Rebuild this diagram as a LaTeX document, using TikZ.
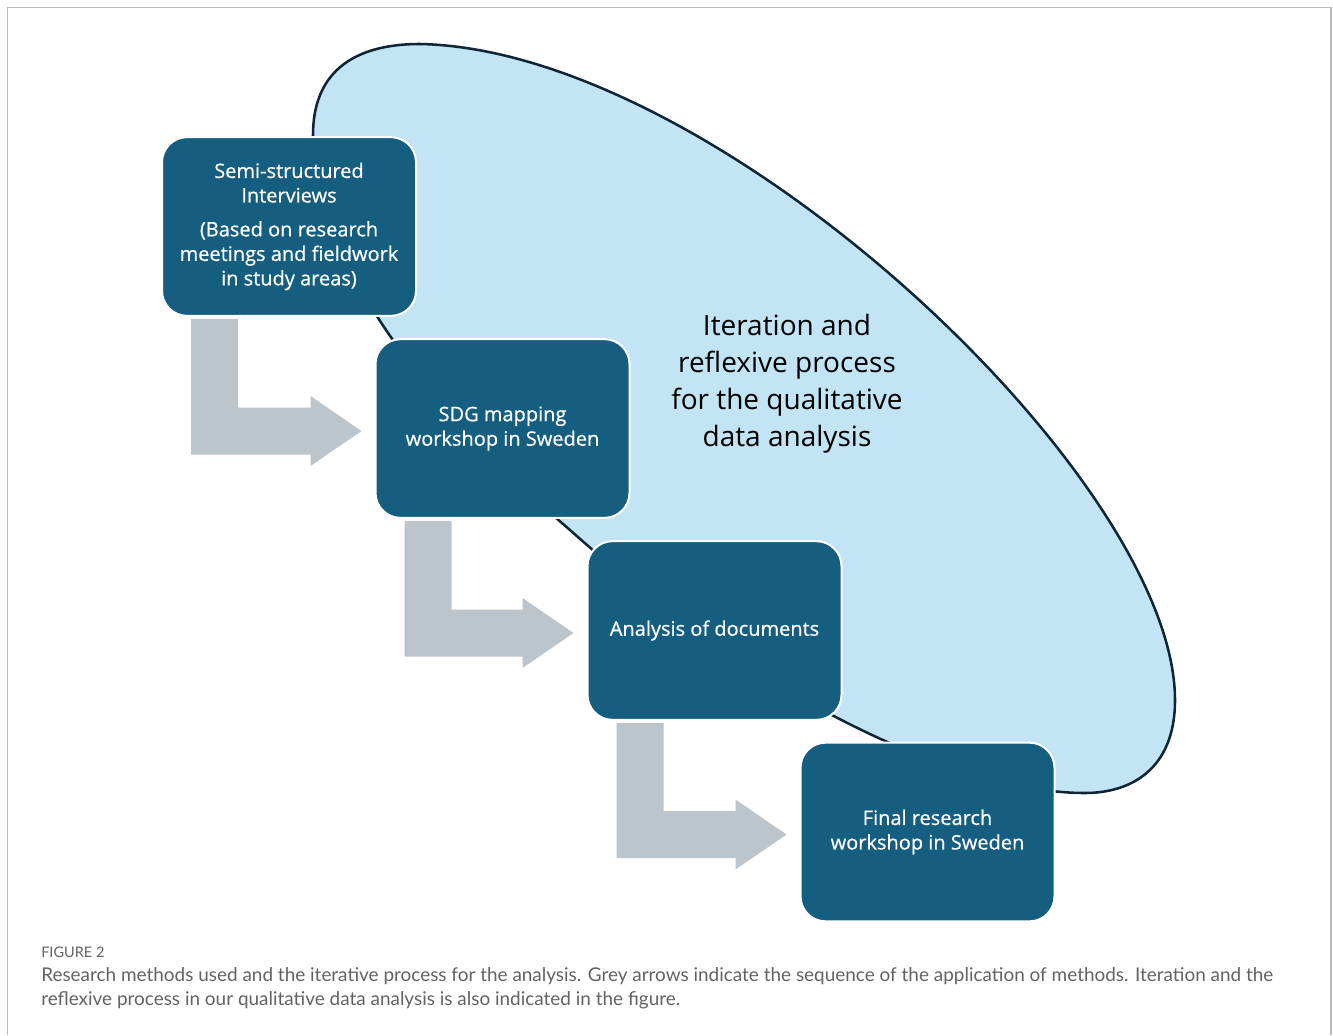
\documentclass[tikz,border=0pt]{standalone}
\usepackage{fontspec}
\setmainfont{Open Sans}
\newfontfamily\capfont{Lato}
\newfontfamily\boxfont[FakeBold=0.6]{Open Sans}
\usetikzlibrary{calc}

\definecolor{boxteal}{HTML}{165E80}
\definecolor{blobfill}{HTML}{C2E4F4}
\definecolor{blobline}{HTML}{0D2535}
\definecolor{flowgrey}{HTML}{BCC4CC}
\definecolor{framegrey}{HTML}{BBBBBB}
\definecolor{captext}{HTML}{626262}

\tikzset{
  stagebox/.style={draw=white, line width=1.5pt, fill=boxteal, rounded corners=18.75pt,
    minimum width=190.5pt, minimum height=134pt, inner sep=0pt, text=white,
    align=center, font=\boxfont\fontsize{15}{18.4}\selectfont},
  looptext/.style={align=center, text=black, font=\fontsize{21}{27.75}\selectfont},
  capline/.style={anchor=base west, inner sep=0pt, text=captext},
}

% grey L-shaped arrow from below box #1 into the left side of box #2
\newcommand{\stepflow}[2]{%
  \fill[flowgrey] let \p1=(#1.south west), \p2=(#2.west) in
    (\x1+22.5pt,\y1-1.5pt) -- (\x1+57.75pt,\y1-1.5pt)
    -- (\x1+57.75pt,\y2+15.7pt) -- (\x2-48pt,\y2+15.7pt)
    -- (\x2-48pt,\y2+24.4pt) -- (\x2-9.75pt,\y2-1.9pt)
    -- (\x2-48pt,\y2-28.1pt) -- (\x2-48pt,\y2-19.5pt)
    -- (\x1+22.5pt,\y2-19.5pt) -- cycle;}

\begin{document}
\begin{tikzpicture}[x=0.75pt, y=-0.75pt]
  \useasboundingbox (0,0) rectangle (1333,1035);

  % figure frame (open at the bottom)
  \draw[framegrey, line width=1.1pt] (7.5,1035) -- (7.5,7.5) -- (1331,7.5) -- (1331,1035);

  % iteration loop
  \draw[blobline, fill=blobfill, line width=1.9pt]
    (313,135) .. controls (313,75) and (350,44) .. (420,44)
    .. controls (720,50) and (1175,480) .. (1175,700)
    .. controls (1175,770) and (1130,793) .. (1085,793)
    .. controls (960,793) and (760,700) .. (570,530)
    .. controls (430,410) and (313,260) .. (313,135) -- cycle;

  \node[looptext] (loop) at (787,384) {Iteration and\\reflexive process\\for the qualitative\\data analysis};

  % method stages
  \node[stagebox] (interviews) at (289,226.5) {Semi-structured\\Interviews\\[7pt](Based on research\\meetings and fieldwork\\in study areas)};
  \node[stagebox] (sdg) at (502.5,428.5) {SDG mapping\\workshop in Sweden};
  \node[stagebox] (docs) at (714.5,630.5) {Analysis of documents};
  \node[stagebox] (final) at (927.5,832) {Final research\\workshop in Sweden};

  % sequence arrows
  \stepflow{interviews}{sdg}
  \stepflow{sdg}{docs}
  \stepflow{docs}{final}

  % caption
  \node[capline, font=\capfont\fontsize{10.9}{12}\selectfont] (figlabel) at (41,957) {FIGURE 2};
  \node[capline, font=\capfont\fontsize{14.2}{18}\selectfont] (cap1) at (41,981) {Research methods used and the iterative process for the analysis. Grey arrows indicate the sequence of the application of methods. Iteration and the};
  \node[capline, font=\capfont\fontsize{14.2}{18}\selectfont] (cap2) at (41,1005) {reflexive process in our qualitative data analysis is also indicated in the figure.};
\end{tikzpicture}
\end{document}
